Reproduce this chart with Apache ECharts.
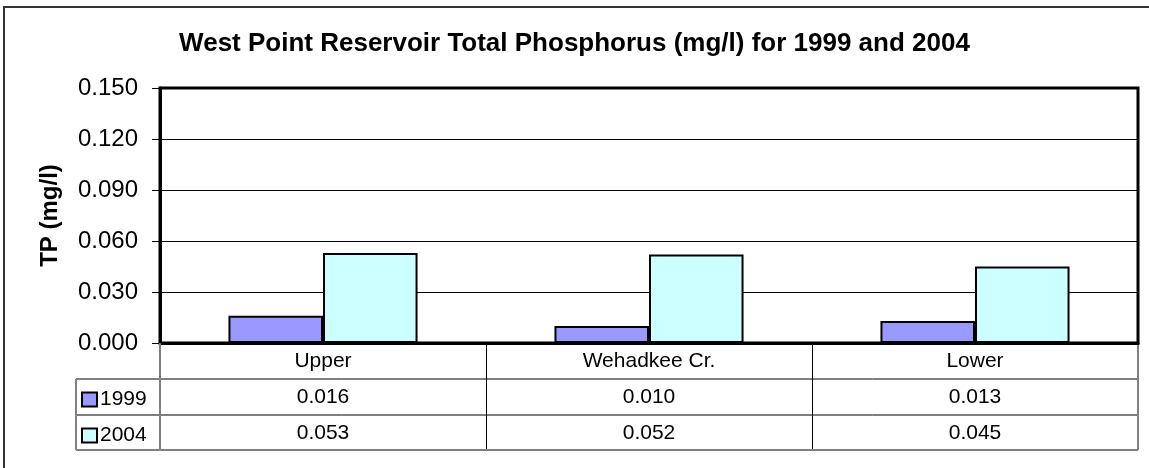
<!DOCTYPE html>
<html>
<head>
<meta charset="utf-8">
<script src="https://cdn.jsdelivr.net/npm/echarts@6/dist/echarts.min.js"></script>
<style>
html,body{margin:0;padding:0;background:#fff;}
#c{width:1149px;height:468px;}
</style>
</head>
<body>
<div id="c"></div>
<script>
const categories = ['Upper', 'Wehadkee Cr.', 'Lower'];
const seriesNames = ['1999', '2004'];
const values1999 = [0.016, 0.010, 0.013];
const values2004 = [0.053, 0.052, 0.045];
const seriesColors = ['#9999FF', '#CCFFFF'];
const yMin = 0, yMax = 0.15, yInterval = 0.03;
const titleText = 'West Point Reservoir Total Phosphorus (mg/l) for 1999 and 2004';
const yName = 'TP (mg/l)';

const FONT = '"Liberation Sans", Arial, sans-serif';
const G = {left: 160, right: 1138, top: 88, bottom: 343};
const rowH = 36;
const tableBottom = G.bottom + rowH * 3 - 1;

const allValues = [values1999, values2004];

const chart = echarts.init(document.getElementById('c'));
const option = {
  animation: false,
  backgroundColor: '#fff',
  textStyle: {fontFamily: FONT, color: '#000'},
  title: {
    text: titleText, left: 'center', top: 31, padding: 0,
    textStyle: {fontFamily: FONT, fontSize: 26, fontWeight: 'bold', color: '#000'}
  },
  legend: seriesNames.map((n, i) => ({
    data: [n], left: 81, top: G.bottom + rowH * (i + 1) + 10, orient: 'horizontal',
    padding: 0, itemWidth: 15, itemHeight: 14, itemGap: 5,
    icon: 'rect',
    textStyle: {fontFamily: FONT, fontSize: 21, color: '#000', padding: [0, 0, 0, -2]},
    itemStyle: {borderColor: '#000', borderWidth: 2}
  })),
  grid: {
    left: G.left, top: G.top, width: G.right - G.left, height: G.bottom - G.top,
    show: true, borderColor: '#000', borderWidth: 3, backgroundColor: 'transparent',
    containLabel: false
  },
  xAxis: {
    type: 'category', data: categories, boundaryGap: true,
    axisLine: {show: true, lineStyle: {color: '#000', width: 3}},
    axisTick: {show: true, length: rowH * 3 - 1, lineStyle: {color: '#000', width: 1}},
    axisLabel: {
      margin: 0, interval: 0,
      formatter: function (v, idx) {
        return '{c|' + v + '}\n{v|' + values1999[idx].toFixed(3) + '}\n{v|' + values2004[idx].toFixed(3) + '}';
      },
      rich: {
        c: {fontFamily: FONT, fontSize: 21, lineHeight: rowH, color: '#000'},
        v: {fontFamily: FONT, fontSize: 21, lineHeight: rowH, color: '#000'}
      }
    },
    splitLine: {show: false}
  },
  yAxis: {
    type: 'value', min: yMin, max: yMax, interval: yInterval,
    name: yName, nameLocation: 'middle', nameGap: 98, nameRotate: 90,
    nameTextStyle: {fontFamily: FONT, fontSize: 24, fontWeight: 'bold', color: '#000'},
    axisLine: {show: true, lineStyle: {color: '#000', width: 3}},
    axisTick: {show: true, length: 8, lineStyle: {color: '#000', width: 1}},
    axisLabel: {
      margin: 22, fontFamily: FONT, fontSize: 24, color: '#000',
      formatter: v => v.toFixed(3)
    },
    splitLine: {show: true, lineStyle: {color: '#000', width: 1}}
  },
  series: seriesNames.map((n, i) => ({
    name: n, type: 'bar', data: allValues[i],
    barGap: '0%', barCategoryGap: '42%',
    itemStyle: {color: seriesColors[i], borderColor: '#000', borderWidth: 2}
  })),
  graphic: [
    // outer chart frame (right and bottom edges fall outside the picture)
    {type: 'rect', shape: {x: 4, y: 7, width: 1170, height: 480},
     style: {fill: 'none', stroke: '#333', lineWidth: 2}, silent: true, z: 100},
    // table horizontal lines
    {type: 'line', shape: {x1: 76, y1: G.bottom + rowH, x2: G.right, y2: G.bottom + rowH},
     style: {stroke: '#000', lineWidth: 1}, z: 100},
    {type: 'line', shape: {x1: 76, y1: G.bottom + rowH * 2, x2: G.right, y2: G.bottom + rowH * 2},
     style: {stroke: '#000', lineWidth: 1}, z: 100},
    {type: 'line', shape: {x1: 76, y1: tableBottom, x2: G.right, y2: tableBottom},
     style: {stroke: '#808080', lineWidth: 2}, z: 100},
    {type: 'line', shape: {x1: 76, y1: G.bottom + rowH, x2: 76, y2: tableBottom},
     style: {stroke: '#808080', lineWidth: 2}, z: 100},
    {type: 'line', shape: {x1: G.left, y1: G.bottom, x2: G.left, y2: tableBottom},
     style: {stroke: '#808080', lineWidth: 2}, z: 100},
    {type: 'line', shape: {x1: G.right, y1: G.bottom + 2, x2: G.right, y2: tableBottom},
     style: {stroke: '#808080', lineWidth: 2}, z: 100}
  ]
};
chart.setOption(option);
</script>
</body>
</html>
